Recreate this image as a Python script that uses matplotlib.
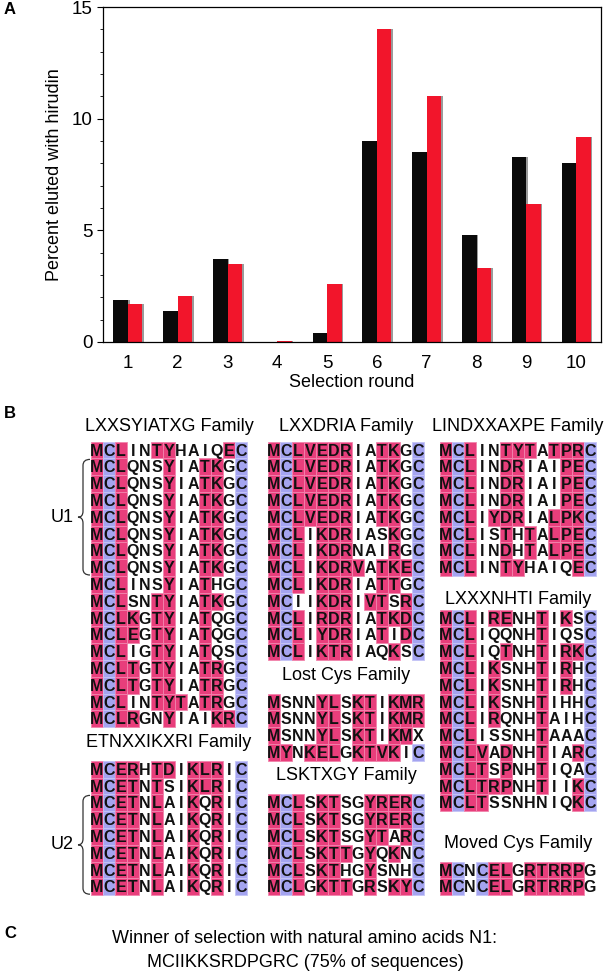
import matplotlib
matplotlib.use("Agg")
import matplotlib.pyplot as plt
import numpy as np
from matplotlib.patches import Rectangle, PathPatch
from matplotlib.path import Path

plt.rcParams['font.family'] = ['Liberation Sans', 'DejaVu Sans']

# ---- panel A data ----
rounds = [1, 2, 3, 4, 5, 6, 7, 8, 9, 10]
black_vals = [1.9, 1.4, 3.7, 0.0, 0.4, 9.0, 8.5, 4.8, 8.3, 8.0]
red_vals = [1.7, 2.05, 3.5, 0.03, 2.6, 14.0, 11.0, 3.3, 6.2, 9.2]

# ---- panel B data (sequences per family) ----
lxxsyiatxg = ["MCLINTYHAIQEC", "MCLQNSYIATKGC", "MCLQNSYIATKGC", "MCLQNSYIATKGC",
              "MCLQNSYIATKGC", "MCLQNSYIATKGC", "MCLQNSYIATKGC", "MCLQNSYIATKGC",
              "MCLINSYIATHGC", "MCLSNTYIATKGC", "MCLKGTYIATQGC", "MCLEGTYIATQGC",
              "MCLIGTYIATQSC", "MCLTGTYIATRGC", "MCLTGTYIATRGC", "MCLINTYTATRGC",
              "MCLRGNYIAIKRC"]
etnxxikxri = ["MCERHTDIKLRIC", "MCETNTSIKLRIC", "MCETNLAIKQRIC", "MCETNLAIKQRIC",
              "MCETNLAIKQRIC", "MCETNLAIKQRIC", "MCETNLAIKQRIC", "MCETNLAIKQRIC"]
lxxdria = ["MCLVEDRIATKGC", "MCLVEDRIATKGC", "MCLVEDRIATKGC", "MCLVEDRIATKGC",
           "MCLVEDRIATKGC", "MCLIKDRIASKGC", "MCLIKDRNAIRGC", "MCLIKDRVATKEC",
           "MCLIKDRIATTGC", "MCIIKDRIVTSRC", "MCLIRDRIATKDC", "MCLIYDRIATIDC",
           "MCLIKTRIAQKSC"]
lost_cys = ["MSNNYLSKTIKMR", "MSNNYLSKTIKMR", "MSNNYLSKTIKMX", "MYNKELGKTVKIC"]
lsktxgy = ["MCLSKTSGYRERC", "MCLSKTSGYRERC", "MCLSKTSGYTARC", "MCLSKTTGYQKNC",
           "MCLSKTHGYSNHC", "MCLGKTTGRSKYC"]
lindxxaxpe = ["MCLINTYTATPRC", "MCLINDRIAIPEC", "MCLINDRIAIPEC", "MCLINDRIAIPEC",
              "MCLIYDRIALPKC", "MCLISTHTALPEC", "MCLINDHTALPEC", "MCLINTYHAIQEC"]
lxxxnhti = ["MCLIRENHTIKSC", "MCLIQQNHTIQSC", "MCLIQTNHTIRKC", "MCLIKSNHTIRHC",
            "MCLIKSNHTIRHC", "MCLIKSNHTIHHC", "MCLIRQNHTAIHC", "MCLISSNHTAAAC",
            "MCLVADNHTIARC", "MCLTSPNHTIQAC", "MCLTRPNHTIIKC", "MCLTSSNHNIQKC"]
moved_cys = ["MCNCELGRTRRPG", "MCNCELGRTRRPG"]

panel_c_lines = ["Winner of selection with natural amino acids N1:",
                 "MCIIKKSRDPGRC (75% of sequences)"]

# residue shading
PINK = "#E83E7B"
PINK_EDGE = "#F184AC"
BLUE = "#A4A4F0"
BLUE_EDGE = "#C4C4F6"
pink_res = set("MLVTYKERDP")
blue_res = set("C")

W, H = 604, 972
fig = plt.figure(figsize=(W / 100, H / 100), dpi=100)

# ---------------- panel A ----------------
ax = fig.add_axes([103 / W, 1 - 342 / H, 498 / W, 335 / H])
x = np.array(rounds)
bw = 0.29
sh = 0.035
ax.bar(x - bw / 2 + sh, black_vals, bw, color="#9a9a9a", zorder=1)
ax.bar(x + bw / 2 + sh, red_vals, bw, color="#9a9a9a", zorder=1)
ax.bar(x - bw / 2, black_vals, bw, color="#0a0a0a", zorder=2)
ax.bar(x + bw / 2, red_vals, bw, color="#F2152B", zorder=2)
ax.set_xlim(0.5, 10.5)
ax.set_ylim(0, 15)
ax.set_xticks(rounds)
ax.set_yticks([0, 5, 10, 15])
ax.set_yticks(range(16), minor=True)
ax.tick_params(axis="x", length=0, pad=9, labelsize=13.5)
ax.tick_params(axis="y", which="major", length=4, labelsize=13.5, width=0.8)
ax.tick_params(axis="y", which="minor", length=2.5, width=0.6)
for s in ax.spines.values():
    s.set_linewidth(0.9)
ax.set_xlabel("Selection round", fontsize=13, labelpad=2)
ax.set_ylabel("Percent eluted with hirudin", fontsize=13, labelpad=6)

# ---------------- panels B & C (pixel overlay) ----------------
ov = fig.add_axes([0, 0, 1, 1])
ov.set_xlim(0, W)
ov.set_ylim(H, 0)
ov.axis("off")

row0 = 450.0
dy = 16.8
cw = 12.0


def ry(k):
    return row0 + dy * k


def draw_block(seqs, x0, k0):
    for i, seq in enumerate(seqs):
        yc = ry(k0 + i)
        for j, ch in enumerate(seq):
            xl = x0 + j * cw
            if ch in pink_res:
                ov.add_patch(Rectangle((xl, yc - dy / 2), cw, dy, facecolor=PINK,
                                       edgecolor=PINK_EDGE, lw=0.6))
            elif ch in blue_res:
                ov.add_patch(Rectangle((xl, yc - dy / 2), cw, dy, facecolor=BLUE,
                                       edgecolor=BLUE_EDGE, lw=0.6))
            ov.text(xl + cw / 2, yc + 5.6, ch, ha="center", va="baseline",
                    fontsize=11.5, fontweight="bold", color="#111111")


def header(text, x0, k):
    ov.text(x0 + 6.5 * cw, ry(k), text, ha="center", va="center", fontsize=13)


def brace(xline, y0, y1, curl=7, point=5):
    ym = (y0 + y1) / 2
    r = 6
    verts = [(xline + curl, y0), (xline, y0), (xline, y0 + r),
             (xline, ym - r), (xline, ym), (xline - point, ym),
             (xline, ym), (xline, ym + r),
             (xline, y1 - r), (xline, y1), (xline + curl, y1)]
    codes = [Path.MOVETO, Path.CURVE3, Path.CURVE3,
             Path.LINETO, Path.CURVE3, Path.CURVE3,
             Path.CURVE3, Path.CURVE3,
             Path.LINETO, Path.CURVE3, Path.CURVE3]
    ov.add_patch(PathPatch(Path(verts, codes), facecolor="none",
                           edgecolor="#333333", lw=0.9))
    return ym


col_x = [91, 268, 440]

header("LXXSYIATXG Family", col_x[0], -1.4)
draw_block(lxxsyiatxg, col_x[0], 0)
header("ETNXXIKXRI Family", col_x[0], 17.4)
draw_block(etnxxikxri, col_x[0], 19)

header("LXXDRIA Family", col_x[1], -1.4)
draw_block(lxxdria, col_x[1], 0)
header("Lost Cys Family", col_x[1], 13.4)
draw_block(lost_cys, col_x[1], 15)
header("LSKTXGY Family", col_x[1], 19.4)
draw_block(lsktxgy, col_x[1], 21)

header("LINDXXAXPE Family", col_x[2], -1.4)
draw_block(lindxxaxpe, col_x[2], 0)
header("LXXXNHTI Family", col_x[2], 8.9)
draw_block(lxxxnhti, col_x[2], 10)
header("Moved Cys Family", col_x[2], 23.4)
draw_block(moved_cys, col_x[2], 25)

# U1 / U2 braces
ym = brace(83, ry(1) - dy / 2 + 1, ry(7) + dy / 2 - 1)
ov.text(74, ym, "U1", ha="right", va="center", fontsize=13)
ym = brace(83, ry(21) - dy / 2 + 1, ry(26) + dy / 2 - 1)
ov.text(74, ym, "U2", ha="right", va="center", fontsize=13)

# panel labels
ov.text(4, 9, "A", fontsize=12, fontweight="bold", ha="left", va="center")
ov.text(4, 413, "B", fontsize=12, fontweight="bold", ha="left", va="center")
ov.text(4, 933, "C", fontsize=12, fontweight="bold", ha="left", va="center")

ov.text(305, 938, panel_c_lines[0], ha="center", va="center", fontsize=13)
ov.text(305, 962, panel_c_lines[1], ha="center", va="center", fontsize=13)

fig.savefig("out.png", dpi=100)
